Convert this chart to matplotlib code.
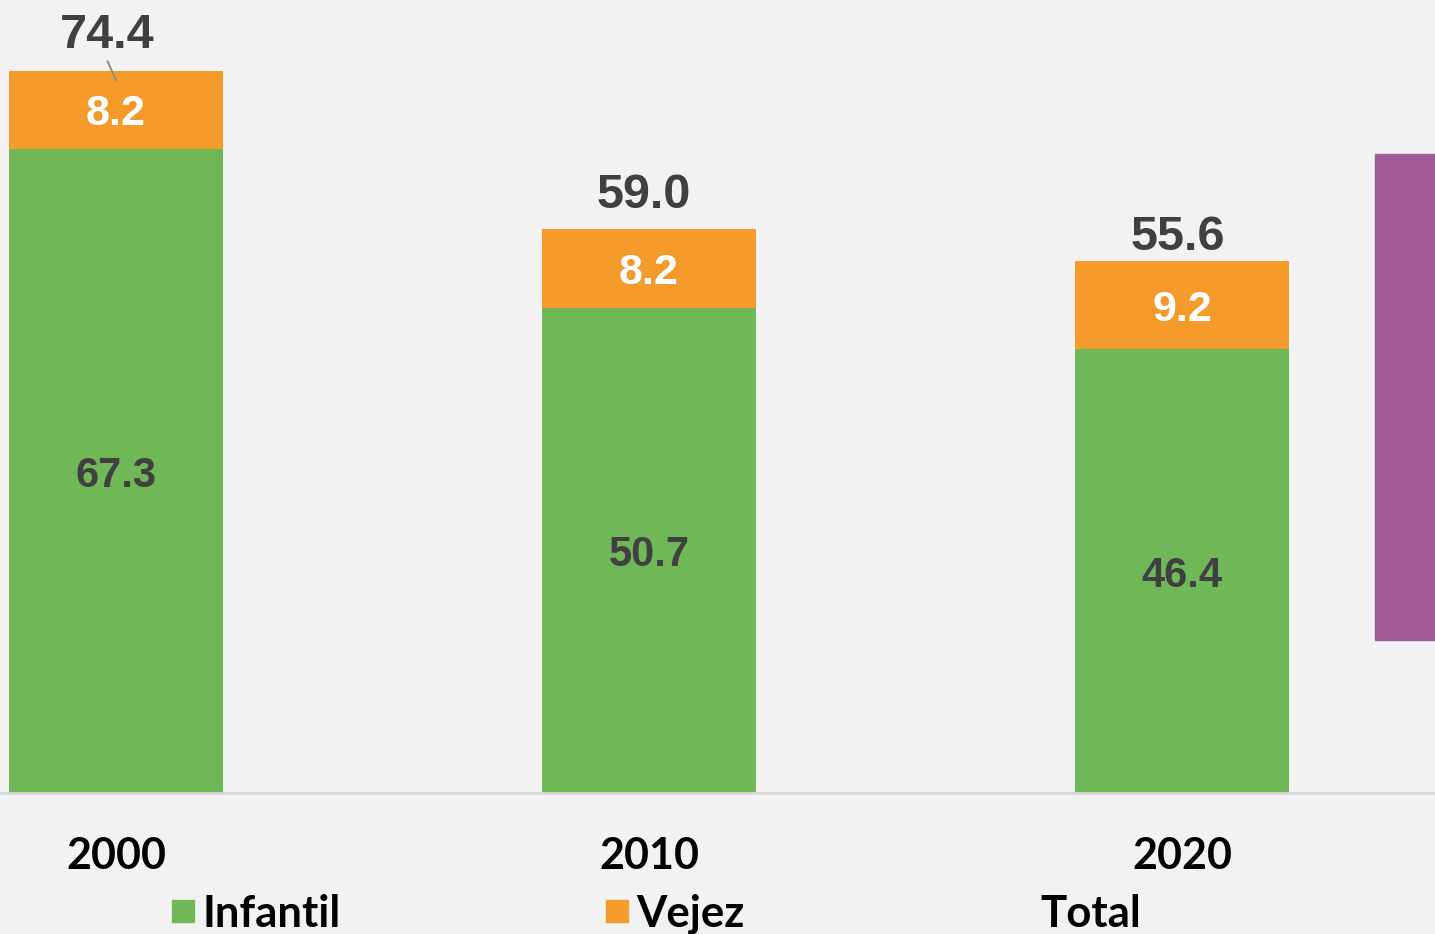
import matplotlib
matplotlib.use("Agg")
import matplotlib.pyplot as plt
from matplotlib.lines import Line2D
from matplotlib.patches import Rectangle

years = ["2000", "2010", "2020"]
infantil = [67.3, 50.7, 46.4]
vejez = [8.2, 8.2, 9.2]
total = [74.4, 59.0, 55.6]

GREEN = "#70B857"
ORANGE = "#F59B2B"
PURPLE = "#A25A93"
BG = "#F2F2F2"
DARK = "#404040"

W, H = 1435, 934
fig = plt.figure(figsize=(W / 100, H / 100), dpi=100, facecolor=BG)
base_px = 793
ax = fig.add_axes([0, (H - base_px) / H, 1, base_px / H])
ax.set_facecolor(BG)

pxu = 9.568
spacing = 533.0
c0 = 116.0
ax.set_ylim(0, base_px / pxu)
ax.set_xlim(-c0 / spacing, (W - c0) / spacing)

x = list(range(len(years)))
b1 = ax.bar(x, infantil, width=0.4, color=GREEN, label="Infantil")
b2 = ax.bar(x, vejez, width=0.4, bottom=infantil, color=ORANGE, label="Vejez")
tot_line, = ax.plot(x, total, linestyle="none", marker=None, label="Total")

lab_font = "Liberation Sans"
for i in x:
    ax.annotate(f"{infantil[i]:.1f}", xy=(i, infantil[i] / 2), xytext=(0, 0),
                textcoords="offset points", ha="center", va="center_baseline",
                fontsize=30, fontweight="bold", color=DARK, family=lab_font)
    ax.annotate(f"{vejez[i]:.1f}", xy=(i, infantil[i] + vejez[i] / 2), xytext=(0, 0),
                textcoords="offset points", ha="center", va="center_baseline",
                fontsize=31, fontweight="bold", color="white", family=lab_font)

# total labels (manual offsets in points, as in original)
tot_offsets = [(-6, 9), (-4, 8), (-3, 1)]
tops = [a + b for a, b in zip(infantil, vejez)]
for i, (t, top) in enumerate(zip(total, tops)):
    dx, dy = tot_offsets[i]
    ax.annotate(f"{t:.1f}", xy=(i, top), xytext=(dx, dy), textcoords="offset points",
                ha="center", va="bottom", fontsize=35, fontweight="bold",
                color=DARK, family=lab_font)
# leader line for first label
ax.annotate("", xy=(0, tops[0] - 1.0), xytext=(-0.016, tops[0] + 1.0),
            arrowprops=dict(arrowstyle="-", color="#8C8C8C", lw=1.4,
                            shrinkA=0, shrinkB=0))

for s in ["top", "right", "left"]:
    ax.spines[s].set_visible(False)
ax.spines["bottom"].set_color("#D9D9D9")
ax.spines["bottom"].set_linewidth(2)
ax.set_yticks([])
ax.set_xticks(x)
ax.set_xticklabels(years, fontsize=31, fontweight="bold", family="Lato", color="black")
ax.tick_params(axis="x", length=0, pad=31)

# decorative purple panel at right edge (part of slide)
fig.patches.append(Rectangle((1375 / W, 1 - 640 / H), (W - 1375) / W, (640 - 154) / H,
                             transform=fig.transFigure, color=PURPLE, zorder=5))

handles = [Line2D([], [], marker="s", linestyle="none", color=GREEN, markersize=16),
           Line2D([], [], marker="s", linestyle="none", color=ORANGE, markersize=16),
           Line2D([], [], linestyle="none")]
leg = fig.legend(handles, ["Infantil", "Vejez", "Total"], ncol=3, frameon=False,
                 loc="center left", bbox_to_anchor=(170 / W, 1 - 914 / H),
                 prop=dict(family="Lato", weight="bold", size=31.5),
                 handlelength=0.6, handletextpad=0.14, columnspacing=6.02,
                 borderpad=0, borderaxespad=0)

fig.savefig("out.png", dpi=100, facecolor=BG)
